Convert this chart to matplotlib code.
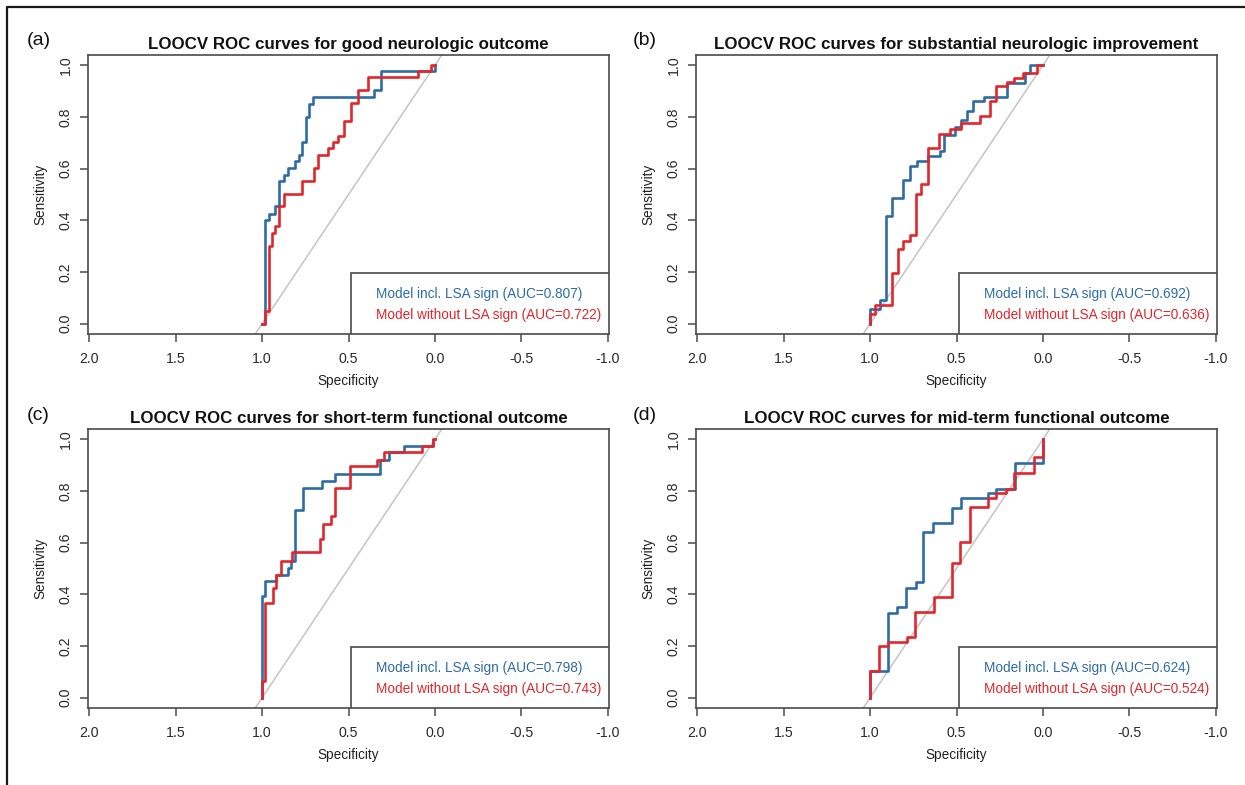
import matplotlib
matplotlib.use("Agg")
import matplotlib.pyplot as plt
from matplotlib.lines import Line2D
from matplotlib.patches import Rectangle

plt.rcParams['font.family'] = ['Liberation Sans', 'DejaVu Sans']

# ---------------- data ----------------
panel_labels = ["(a)", "(b)", "(c)", "(d)"]
titles = [
    "LOOCV ROC curves for good neurologic outcome",
    "LOOCV ROC curves for substantial neurologic improvement",
    "LOOCV ROC curves for short-term functional outcome",
    "LOOCV ROC curves for mid-term functional outcome",
]
series_names = ["Model incl. LSA sign", "Model without LSA sign"]
auc_incl = [0.807, 0.692, 0.798, 0.624]
auc_without = [0.722, 0.636, 0.743, 0.524]

x_ticks = [2.0, 1.5, 1.0, 0.5, 0.0, -0.5, -1.0]
x_tick_labels = ["2.0", "1.5", "1.0", "0.5", "0.0", "-0.5", "-1.0"]
y_ticks = [0.0, 0.2, 0.4, 0.6, 0.8, 1.0]
y_tick_labels = ["0.0", "0.2", "0.4", "0.6", "0.8", "1.0"]

# (a) good neurologic outcome
a_incl_spec = [1.0, 0.985, 0.958, 0.927, 0.900, 0.875, 0.851, 0.812, 0.789, 0.770, 0.747, 0.728, 0.703, 0.352, 0.314, 0.0]
a_incl_sens = [0.0, 0.403, 0.426, 0.454, 0.551, 0.577, 0.603, 0.628, 0.654, 0.702, 0.800, 0.852, 0.877, 0.903, 0.979, 1.0]
a_wo_spec = [1.0, 0.981, 0.958, 0.943, 0.927, 0.904, 0.875, 0.770, 0.697, 0.678, 0.617, 0.588, 0.559, 0.525, 0.487, 0.444, 0.387, 0.100, 0.023, 0.0]
a_wo_sens = [0.0, 0.05, 0.302, 0.351, 0.377, 0.454, 0.503, 0.551, 0.603, 0.654, 0.680, 0.702, 0.725, 0.783, 0.854, 0.903, 0.955, 0.979, 1.0, 1.0]

# (b) substantial neurologic improvement
b_incl_spec = [1.0, 1.0, 0.942, 0.907, 0.874, 0.807, 0.768, 0.729, 0.667, 0.598, 0.571, 0.507, 0.474, 0.439, 0.404, 0.338, 0.207, 0.101, 0.072, 0.0]
b_incl_sens = [0.0, 0.057, 0.093, 0.415, 0.486, 0.557, 0.612, 0.628, 0.648, 0.667, 0.732, 0.761, 0.790, 0.822, 0.861, 0.877, 0.932, 0.970, 1.0, 1.0]
b_wo_spec = [1.0, 1.0, 0.971, 0.874, 0.836, 0.807, 0.768, 0.733, 0.704, 0.667, 0.603, 0.536, 0.474, 0.366, 0.304, 0.271, 0.207, 0.168, 0.114, 0.033, 0.0]
b_wo_sens = [0.0, 0.039, 0.074, 0.196, 0.289, 0.319, 0.345, 0.503, 0.542, 0.680, 0.734, 0.754, 0.777, 0.805, 0.861, 0.919, 0.934, 0.951, 0.970, 1.0, 1.0]

# (c) short-term functional outcome
c_incl_spec = [1.0, 1.0, 0.981, 0.919, 0.851, 0.832, 0.807, 0.764, 0.652, 0.580, 0.315, 0.267, 0.180, 0.010, 0.0]
c_incl_sens = [0.0, 0.392, 0.453, 0.476, 0.502, 0.528, 0.725, 0.812, 0.840, 0.866, 0.921, 0.951, 0.975, 1.0, 1.0]
c_wo_spec = [1.0, 1.0, 0.981, 0.938, 0.919, 0.890, 0.826, 0.667, 0.648, 0.600, 0.580, 0.493, 0.335, 0.296, 0.072, 0.010, 0.0]
c_wo_sens = [0.0, 0.063, 0.366, 0.425, 0.476, 0.528, 0.564, 0.615, 0.672, 0.702, 0.812, 0.895, 0.921, 0.951, 0.975, 1.0, 1.0]

# (d) mid-term functional outcome
d_incl_spec = [1.0, 1.0, 0.894, 0.845, 0.791, 0.733, 0.691, 0.636, 0.526, 0.474, 0.319, 0.269, 0.164, 0.0]
d_incl_sens = [0.0, 0.102, 0.328, 0.350, 0.425, 0.448, 0.641, 0.676, 0.734, 0.773, 0.792, 0.809, 0.908, 1.0]
d_wo_spec = [1.0, 1.0, 0.946, 0.894, 0.787, 0.739, 0.632, 0.526, 0.482, 0.424, 0.319, 0.269, 0.211, 0.168, 0.052, 0.0]
d_wo_sens = [0.0, 0.102, 0.199, 0.215, 0.234, 0.332, 0.388, 0.521, 0.603, 0.737, 0.773, 0.792, 0.809, 0.870, 0.930, 1.0]

incl_curves = [(a_incl_spec, a_incl_sens), (b_incl_spec, b_incl_sens),
               (c_incl_spec, c_incl_sens), (d_incl_spec, d_incl_sens)]
wo_curves = [(a_wo_spec, a_wo_sens), (b_wo_spec, b_wo_sens),
             (c_wo_spec, c_wo_sens), (d_wo_spec, d_wo_sens)]

# ---------------- style ----------------
W, H = 1245, 785
BLUE = "#2E6CA6"
RED = "#E2262B"
DIAG = "#C4C4C4"
AXC = "#4A4A4A"
TXT = "#222222"

fig = plt.figure(figsize=(W / 100, H / 100), dpi=100)
fig.patch.set_facecolor("white")

# axes boxes in pixel coordinates (left, top, right, bottom)
boxes = [(88, 55, 609, 334), (696, 55, 1217, 334),
         (88, 429, 609, 708), (696, 429, 1217, 708)]
label_pos = [(27, 45), (633, 45), (27, 419.5), (633, 419.5)]

for i in range(4):
    l, t, r, b = boxes[i]
    ax = fig.add_axes([l / W, 1 - b / H, (r - l) / W, (b - t) / H])
    ax.set_xlim(2.0075, -1.0075)
    ax.set_ylim(-0.04, 1.04)

    ax.axline((1.0, 0.0), (0.0, 1.0), color=DIAG, lw=1.1, zorder=1)
    sp, se = incl_curves[i]
    l1, = ax.plot(sp, se, drawstyle="steps-post", color=BLUE, lw=1.9, zorder=3)
    sp, se = wo_curves[i]
    l2, = ax.plot(sp, se, drawstyle="steps-post", color=RED, lw=1.9, zorder=4)

    for s in ax.spines.values():
        s.set_color(AXC)
        s.set_linewidth(1.2)
    ax.set_xticks(x_ticks)
    ax.set_xticklabels(x_tick_labels)
    ax.set_yticks(y_ticks)
    ax.set_yticklabels(y_tick_labels, rotation=90, va="center")
    ax.tick_params(axis="both", direction="out", length=5.5, width=1.1,
                   color=AXC, labelsize=10.2, labelcolor="#2a2a2a")
    ax.tick_params(axis="x", pad=7.5)
    ax.tick_params(axis="y", pad=5.5)

    ax.set_xlabel("Specificity", fontsize=9.8, color=TXT)
    ax.set_ylabel("Sensitivity", fontsize=9.8, color=TXT)
    ax.xaxis.set_label_coords(0.5, -0.145)
    ax.yaxis.set_label_coords(-0.078, 0.5)

    ax.set_title(titles[i], fontsize=12.2, fontweight="bold", color="#111111", pad=4.5)

    # legend box (lower right)
    lx0 = 0.505
    ax.add_patch(Rectangle((lx0, 0.0), 1 - lx0, 0.219, transform=ax.transAxes,
                           facecolor="white", edgecolor=AXC, lw=1.2, zorder=5))
    ax.text(0.553, 0.143, f"{series_names[0]} (AUC={auc_incl[i]:.3f})",
            transform=ax.transAxes, color=l1.get_color(), fontsize=9.85,
            va="center", ha="left", zorder=6)
    ax.text(0.553, 0.068, f"{series_names[1]} (AUC={auc_without[i]:.3f})",
            transform=ax.transAxes, color=l2.get_color(), fontsize=9.85,
            va="center", ha="left", zorder=6)

    px, py = label_pos[i]
    fig.text(px / W, 1 - py / H, panel_labels[i], fontsize=14, color="#111111",
             ha="left", va="baseline")

# outer frame (top and left edges)
fig.add_artist(Line2D([6.5 / W, 6.5 / W, 1.0], [0.0, 1 - 6.5 / H, 1 - 6.5 / H],
                      transform=fig.transFigure, color="#1a1a1a", lw=1.6))

fig.savefig("out.png", dpi=100)
